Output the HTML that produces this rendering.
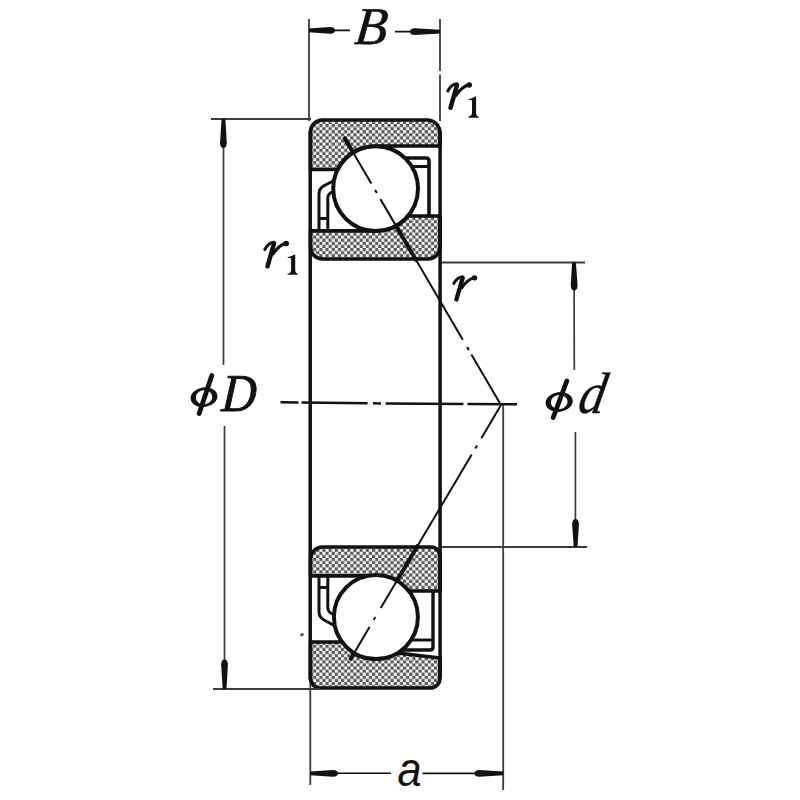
<!DOCTYPE html>
<html><head><meta charset="utf-8"><style>
html,body{margin:0;padding:0;background:#fff;overflow:hidden;}
svg{display:block;}
</style></head><body>
<svg width="800" height="800" viewBox="0 0 800 800">
<defs>
<pattern id="h" width="6.2" height="6.2" patternUnits="userSpaceOnUse">
<rect width="6.2" height="6.2" fill="#f6f6f6"/>
<rect x="3.1" y="0" width="3.1" height="3.1" fill="#565656"/>
<rect x="0" y="3.1" width="3.1" height="3.1" fill="#565656"/>
</pattern>
</defs>

<!-- top bearing section -->
<g stroke="#111" stroke-width="3.7" stroke-linejoin="round">
<path d="M310.5 169.5 V132 A12 12 0 0 1 322.5 120 H427 A13 13 0 0 1 440 133 V146 H375.6 A42.4 42.4 0 0 0 337.75 169.5 Z" fill="url(#h)"/>
<path d="M310.5 230.8 H375.6 A42.4 42.4 0 0 0 407.96 216 H440 V247 A12 12 0 0 1 428 259 H322.5 A12 12 0 0 1 310.5 247 Z" fill="url(#h)"/>
</g>
<g stroke="#111" stroke-width="3" fill="none" stroke-linejoin="round">
<path d="M337 179 L323.5 186 Q319 188.5 319 194 V229"/>
<path d="M334 191.5 Q327.8 193 327.8 198 V229"/>
<path d="M319 218.5 H327.8"/>
<path d="M398 158 H426 Q429 158 429 161 V215" stroke-width="3.6"/>
<path d="M404 166.5 H428"/>
</g>
<circle cx="375.6" cy="188.6" r="42.4" fill="#fff" stroke="#111" stroke-width="4"/>

<!-- bottom bearing section -->
<g stroke="#111" stroke-width="3.7" stroke-linejoin="round">
<path d="M310.5 642 H342.1 A42 42 0 0 0 397.5 653 L440 658 V678 A10 10 0 0 1 430 688 H320 A9.5 9.5 0 0 1 310.5 678.5 Z" fill="url(#h)"/>
<path d="M310.5 575.8 H375.9 A42 42 0 0 1 408.8 591 H440 V556 A9 9 0 0 0 431 547 H322.5 A12 12 0 0 0 310.5 559 Z" fill="url(#h)"/>
</g>
<g stroke="#111" stroke-width="3" fill="none" stroke-linejoin="round">
<path d="M319 577 V612 Q319 617 324 620 L337 627"/>
<path d="M327.8 577 V608 Q327.8 612 334 615"/>
<path d="M319 587.5 H327.8"/>
<path d="M398 650 H430 Q433 650 433 647 V592" stroke-width="3.4"/>
<path d="M405 640 H432"/>
</g>
<circle cx="375.9" cy="617.1" r="42" fill="#fff" stroke="#111" stroke-width="4"/>

<g stroke="#111" fill="none" stroke-linecap="butt">
<!-- B dimension -->
<path d="M309 19 V121 M440 19 V71 M440 74.5 V121" stroke-width="1.8" stroke="#3c3c3c"/>
<path d="M309 30.4 H350 M395 31.6 H440" stroke-width="1.6"/>
<!-- phiD -->
<path d="M211 119 H311 M213 689 H319" stroke-width="2" stroke="#3c3c3c"/>
<path d="M223.5 119 V365 M224.5 426 V689" stroke-width="1.7" stroke="#3c3c3c"/>
<!-- phid -->
<path d="M440 262.5 H585 M440 547 H587" stroke-width="2" stroke="#3c3c3c"/>
<path d="M574 262 L574.3 370 M575.4 432 V547" stroke-width="1.7" stroke="#3c3c3c"/>
<!-- a -->
<path d="M310.3 684 V785 M503.2 405 V790" stroke-width="1.8" stroke="#3c3c3c"/>
<path d="M310 773.3 H391 M422.5 773.4 H503" stroke-width="1.6"/>
<!-- center line -->
<path d="M280.5 402.2 L298.5 402.4 M301.5 402.5 L367.6 403.2 M373 403.3 L381 403.4 M385.6 403.4 L463.5 404 M467.5 404 L517 404.3" stroke-width="2.5"/>
<!-- contact lines -->
<path d="M344 137 L501 405" stroke-width="2" stroke-dasharray="54 7.5 3.5 7 163 8.5 3.5 5 400 0"/>
<path d="M501 405 L350 660" stroke-width="2" stroke-dasharray="38.6 8.4 3.5 7 178.5 10.5 3.5 8 400 0"/>
<!-- thick contact segments over rings -->
<path d="M344 137 L353.2 152.6 M396 225.8 L416.6 261 M418.1 545 L396.8 580.9 M354.3 652.7 L350 660" stroke-width="4"/>
<!-- bore lines -->
<path d="M310.2 131 V679 M440.1 132 V678" stroke-width="3.5"/>
</g>

<!-- arrows -->
<g fill="#111">
<path d="M308.99 32.20 L329.99 33.78 Q334.99 33.46 335.00 30.40 Q335.01 27.34 330.01 26.98 L309.01 28.40Z"/>
<path d="M440.00 29.80 L415.00 28.30 Q410.00 28.64 410.00 31.70 Q410.00 34.76 415.00 35.10 L440.00 33.60Z"/>
<path d="M221.60 118.99 L220.02 142.99 Q220.34 147.99 223.40 148.00 Q226.46 148.01 226.82 143.01 L225.40 119.01Z"/>
<path d="M226.50 688.99 L227.92 664.49 Q227.56 659.49 224.50 659.50 Q221.44 659.51 221.12 664.51 L222.70 689.01Z"/>
<path d="M572.10 262.51 L570.76 285.52 Q571.14 290.52 574.20 290.50 Q577.26 290.48 577.56 285.48 L575.90 262.49Z"/>
<path d="M577.50 546.99 L578.92 523.99 Q578.56 518.99 575.50 519.00 Q572.44 519.01 572.12 524.01 L573.70 547.01Z"/>
<path d="M310.29 775.20 L332.99 776.78 Q337.99 776.46 338.00 773.40 Q338.01 770.34 333.01 769.98 L310.31 771.40Z"/>
<path d="M503.30 771.50 L479.50 770.00 Q474.50 770.34 474.50 773.40 Q474.50 776.46 479.50 776.80 L503.30 775.30Z"/>
</g>

<!-- text -->
<g fill="#111" stroke="#111" font-family="'Liberation Serif', serif" font-style="italic" font-size="54">
<text transform="translate(353.5,44.4) scale(0.986,0.984) skewX(-6)" stroke-width="0.6">B</text>
<text transform="translate(221,410.5) scale(0.887,0.986) skewX(-4)" stroke-width="1">D</text>
<text transform="translate(576.6,413.1) scale(0.97,1.084) skewX(-12)" stroke-width="0.3">d</text>
</g>
<text transform="translate(397.5,785.6) scale(0.9,1.008)" font-family="'Liberation Sans', sans-serif" font-style="italic" font-size="48" fill="#111">a</text>
<g fill="#111">
<path transform="translate(468.5,96)" d="M7.6 0 L7.6 17.2 Q7.9 20.2 10.1 20.6 L10.1 21.7 L0 21.7 L0 20.6 Q3.2 20.2 3.5 17.2 L3.5 4.2 Q1.8 4.3 0 3.8 L0 3.2 Q4 2.2 7.6 0 Z"/>
<path transform="translate(287.6,254.2) scale(1,0.95)" d="M7.6 0 L7.6 17.2 Q7.9 20.2 10.1 20.6 L10.1 21.7 L0 21.7 L0 20.6 Q3.2 20.2 3.5 17.2 L3.5 4.2 Q1.8 4.3 0 3.8 L0 3.2 Q4 2.2 7.6 0 Z"/>
</g>
<g fill="#111" stroke="#111">
<g transform="translate(447,82)"><path d="M0.8 9 Q4.5 2.2 9.5 1.8" stroke-width="3" stroke-linecap="round" fill="none"/>
<path d="M10 3 L3.5 25.8" stroke-width="4.5" stroke-linecap="round" fill="none"/>
<path d="M9 13.5 Q14.5 5 21.8 2.8" stroke-width="3.2" stroke-linecap="round" fill="none"/>
<circle cx="22.2" cy="3" r="2.8" stroke="none"/></g>
<g transform="translate(264,240.5)"><path d="M0.8 9 Q4.5 2.2 9.5 1.8" stroke-width="3" stroke-linecap="round" fill="none"/>
<path d="M10 3 L3.5 25.8" stroke-width="4.5" stroke-linecap="round" fill="none"/>
<path d="M9 13.5 Q14.5 5 21.8 2.8" stroke-width="3.2" stroke-linecap="round" fill="none"/>
<circle cx="22.2" cy="3" r="2.8" stroke="none"/></g>
<g transform="translate(453,275) scale(0.97,0.95)"><path d="M0.8 9 Q4.5 2.2 9.5 1.8" stroke-width="3" stroke-linecap="round" fill="none"/>
<path d="M10 3 L3.5 25.8" stroke-width="4.5" stroke-linecap="round" fill="none"/>
<path d="M9 13.5 Q14.5 5 21.8 2.8" stroke-width="3.2" stroke-linecap="round" fill="none"/>
<circle cx="22.2" cy="3" r="2.8" stroke="none"/></g>
</g>
<!-- phi glyphs -->
<g>
<ellipse cx="204" cy="397.2" rx="13.5" ry="9.8" fill="#111" transform="rotate(-8 204 397.2)"/>
<ellipse cx="204" cy="397.2" rx="8.3" ry="7" fill="#fff" transform="rotate(-8 204 397.2)"/>
<line x1="211.8" y1="375.5" x2="199.2" y2="413.5" stroke="#111" stroke-width="4.8" stroke-linecap="round"/>
<ellipse cx="559.2" cy="402" rx="13.6" ry="9.9" fill="#111" transform="rotate(-8 559.2 402)"/>
<ellipse cx="559.2" cy="402" rx="8.4" ry="7.1" fill="#fff" transform="rotate(-8 559.2 402)"/>
<line x1="566.8" y1="381" x2="553.2" y2="417.5" stroke="#111" stroke-width="4.8" stroke-linecap="round"/>
</g>
<ellipse cx="302" cy="634.7" rx="2" ry="1.5" fill="#2a6a8a" transform="rotate(-30 302 634.7)"/>
</svg>
</body></html>
